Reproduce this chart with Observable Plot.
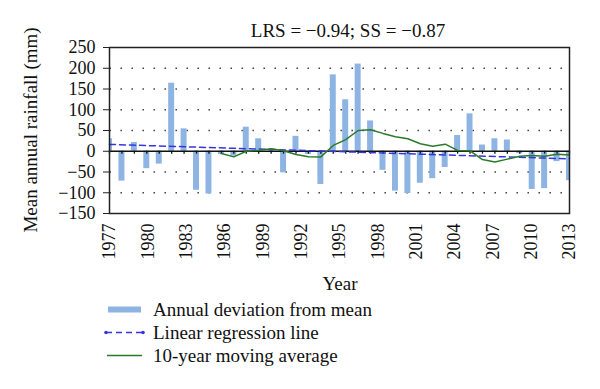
<!DOCTYPE html>
<html><head><meta charset="utf-8">
<script src="https://cdn.jsdelivr.net/npm/d3@7"></script>
<script src="https://cdn.jsdelivr.net/npm/@observablehq/plot@0.6"></script>
<style>body{margin:0;background:#fff} svg text{font-family:"Liberation Serif",serif !important}</style>
</head><body><div id="chart"></div>
<script>
// Annual deviation from mean (mm), one value per category slot (38 slots, first & last half-clipped)
const deviation = [30, -72, 21, -42, -31, 164, 54, -94, -103, -8,
  -12, 58, 30, 5, -52, 36, -8, -80, 184, 124,
  210, 73, -46, -96, -102, -77, -66, -39, 38, 90,
  15, 30, 27, -6, -92, -90, -25, -71];
// 10-year moving average, starting at slot 9
const maStart = 9;
const movingAvg = [-5.6, -13.6, 0, 2, 6, 1, -8, -13, -13.6, 14,
  28, 50, 52, 43, 35, 30, 18, 12, 17, 2,
  1, -20, -26, -19, -12, -10, -12, -7, -9];
// Linear regression line end points
const regSlots = [0, 37];
const regValues = [16.5, -18.3];
// Axis tick labels
const xTickLabels = ["1977","1980","1983","1986","1989","1992","1995","1998","2001","2004","2007","2010","2013"];
const yTicks = [-150, -100, -50, 0, 50, 100, 150, 200, 250];
const gridValues = [-100, -50, 50, 100, 150, 200];
const titleText = "LRS = \u22120.94; SS = \u22120.87";
const yLabel = "Mean annual rainfall (mm)";
const xLabel = "Year";
const legendLabels = ["Annual deviation from mean", "Linear regression line", "10-year moving average"];

const barColor = "#8db4e2", regColor = "#3535e0", maColor = "#2b7a2b";
const FONT = "Liberation Serif";

const slots = deviation.map((_, i) => i);
const bars = deviation.map((v, i) => ({i, v}));
const ma = movingAvg.map((v, k) => ({i: k + maStart, v}));
const reg = regSlots.map((s, k) => ({i: s, v: regValues[k]}));
const lastSlot = deviation.length - 1;

const plot = Plot.plot({
  width: 600, height: 389,
  marginLeft: 109, marginRight: 31, marginTop: 47, marginBottom: 176,
  style: `font-family: "Liberation Serif", serif; font-size: 18px; color: #111; background: #fff;`,
  x: {domain: [0, lastSlot], axis: null},
  y: {domain: [-150, 250], axis: null},
  marks: [
    Plot.ruleY(gridValues, {stroke: "#333", strokeWidth: 1.4, strokeDasharray: "1.4 9.6", strokeDashoffset: -0.5}),
    Plot.rectY(bars, {x1: d => d.i - 0.24, x2: d => d.i + 0.24, y1: 0, y2: "v", fill: barColor, clip: true}),
    Plot.ruleY([0], {stroke: "#111", strokeWidth: 1.5}),
    Plot.ruleX(slots, {x: d => d, y1: 0, y2: -7, stroke: "#111", strokeWidth: 1.3}),
    Plot.line(reg, {x: "i", y: "v", stroke: regColor, strokeWidth: 1.5, strokeDasharray: "6 4"}),
    Plot.line(ma, {x: "i", y: "v", stroke: maColor, strokeWidth: 1.5}),
    Plot.frame({stroke: "#222", strokeWidth: 1.5}),
    Plot.axisY(yTicks, {tickSize: 6, tickPadding: 8, fontSize: 18, fontFamily: FONT, label: null,
      tickFormat: d3.format("d"), stroke: "#222", fill: "#111"}),
    Plot.text(xTickLabels, {x: (d, i) => i * lastSlot / (xTickLabels.length - 1), y: -150, text: d => d,
      rotate: -90, textAnchor: "end", dy: 10, fontSize: 18, fontFamily: FONT, fill: "#111"})
  ]
});
document.getElementById("chart").append(plot);

const svg = d3.select(plot);
const addText = (x, y, t, anchor) => svg.append("text").attr("x", x).attr("y", y)
  .attr("text-anchor", anchor).attr("font-family", FONT).attr("font-size", 19).attr("fill", "#111").text(t);
addText(348, 36.5, titleText, "middle");
addText(340, 290, xLabel, "middle");
svg.append("text").attr("transform", "translate(37,130) rotate(-90)").attr("text-anchor", "middle")
  .attr("font-family", FONT).attr("font-size", 19).attr("fill", "#111").text(yLabel);

const lg = svg.append("g");
const rows = [315.5, 338.5, 361.5];
lg.append("rect").attr("x", 108).attr("y", rows[0] - 9).attr("width", 33).attr("height", 6).attr("fill", barColor);
lg.append("line").attr("x1", 106).attr("x2", 143).attr("y1", rows[1] - 6).attr("y2", rows[1] - 6)
  .attr("stroke", regColor).attr("stroke-width", 1.5).attr("stroke-dasharray", "6 4");
[106, 143].forEach(x => lg.append("circle").attr("cx", x).attr("cy", rows[1] - 6).attr("r", 1.8).attr("fill", regColor));
lg.append("line").attr("x1", 107).attr("x2", 142).attr("y1", rows[2] - 6).attr("y2", rows[2] - 6)
  .attr("stroke", maColor).attr("stroke-width", 1.5);
legendLabels.forEach((t, k) => addText(153, rows[k], t, "start"));
</script></body></html>
